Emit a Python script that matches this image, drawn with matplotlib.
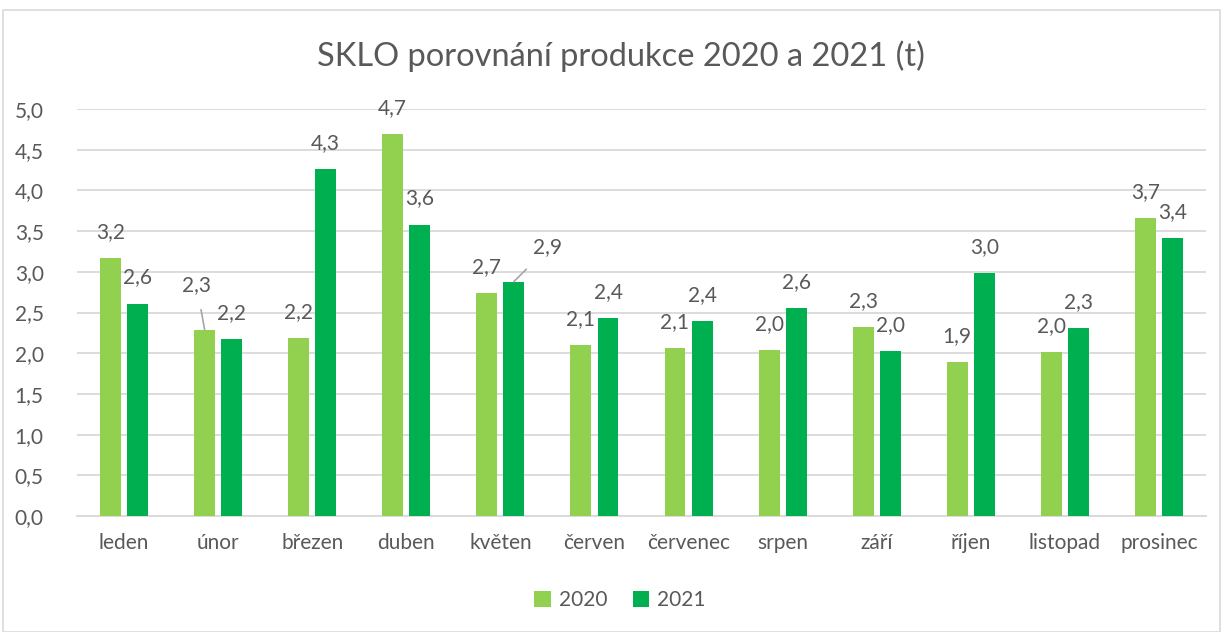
import numpy as np
import matplotlib.pyplot as plt
from matplotlib.patches import Rectangle

months = ["leden", "únor", "březen", "duben", "květen", "červen",
          "červenec", "srpen", "září", "říjen", "listopad", "prosinec"]
prod_2020 = [3.17, 2.29, 2.19, 4.69, 2.74, 2.10, 2.06, 2.04, 2.32, 1.89, 2.01, 3.66]
prod_2021 = [2.61, 2.17, 4.26, 3.58, 2.88, 2.43, 2.39, 2.56, 2.03, 2.99, 2.31, 3.41]
yticks = np.arange(0, 5.01, 0.5)

# label offsets in px (dx, dy) where Excel moved the label by hand
moved_2020 = {1: (-8, 45)}
moved_2021 = {4: (34, 34)}

c2020 = "#92D050"
c2021 = "#00B050"
txt = "#595959"
plt.rcParams["font.family"] = ["Lato", "DejaVu Sans"]

fig = plt.figure(figsize=(12.23, 6.32), dpi=100)
fig.patches.append(Rectangle((3 / 1223, 0), 1217 / 1223, 622 / 632, transform=fig.transFigure,
                             fill=False, edgecolor="#d9d9d9", linewidth=1.2))
ax = fig.add_axes([77 / 1223, 1 - 516 / 632, 1129 / 1223, 407 / 632])

x = np.arange(len(months))
w = 0.223
off = 0.144
b1 = ax.bar(x - off, prod_2020, w, color=c2020, label="2020", zorder=3)
b2 = ax.bar(x + off, prod_2021, w, color=c2021, label="2021", zorder=3)

pt = 72 / 100  # px -> points
fs = 15


def put_labels(bars, vals, moved):
    for i, (b, v) in enumerate(zip(bars, vals)):
        cx = b.get_x() + b.get_width() / 2
        s = f"{v:.1f}".replace(".", ",")
        if i in moved:
            dx, dy = moved[i]
            ax.annotate(s, (cx, v), xytext=(dx * pt, dy * pt), textcoords="offset points",
                        ha="center", va="center", fontsize=fs, color=txt,
                        arrowprops=dict(arrowstyle="-", color="#a6a6a6", lw=1.2,
                                        shrinkA=9, shrinkB=0))
        else:
            ax.annotate(s, (cx, v), xytext=(0, 26 * pt), textcoords="offset points",
                        ha="center", va="center", fontsize=fs, color=txt)


put_labels(b1, prod_2020, moved_2020)
put_labels(b2, prod_2021, moved_2021)

ax.set_ylim(0, 5)
ax.set_xlim(-0.5, len(months) - 0.5)
ax.set_yticks(yticks)
ax.set_yticklabels([f"{t:.1f}".replace(".", ",") for t in yticks], fontsize=fs, color=txt)
ax.set_xticks(x)
ax.set_xticklabels(months, fontsize=fs, color=txt)
ax.tick_params(axis="both", length=0)
ax.tick_params(axis="y", pad=24)
ax.tick_params(axis="x", pad=12)
ax.grid(axis="y", color="#d9d9d9", linewidth=1.3, zorder=0)
for sp in ["top", "right", "left"]:
    ax.spines[sp].set_visible(False)
ax.spines["bottom"].set_color("#d9d9d9")
ax.spines["bottom"].set_linewidth(1.3)

fig.text(621 / 1223, 1 - 56 / 632, "SKLO porovnání produkce 2020 a 2021 (t)",
         ha="center", va="center", fontsize=23.5, color=txt)
fig.legend(handles=[b1, b2], loc="center", bbox_to_anchor=(620 / 1223, 1 - 600 / 632),
           ncol=2, frameon=False, fontsize=fs, handlelength=0.8, handleheight=0.8,
           handletextpad=0.4, columnspacing=1.2, labelcolor=txt)

fig.savefig("out.png", dpi=100)
